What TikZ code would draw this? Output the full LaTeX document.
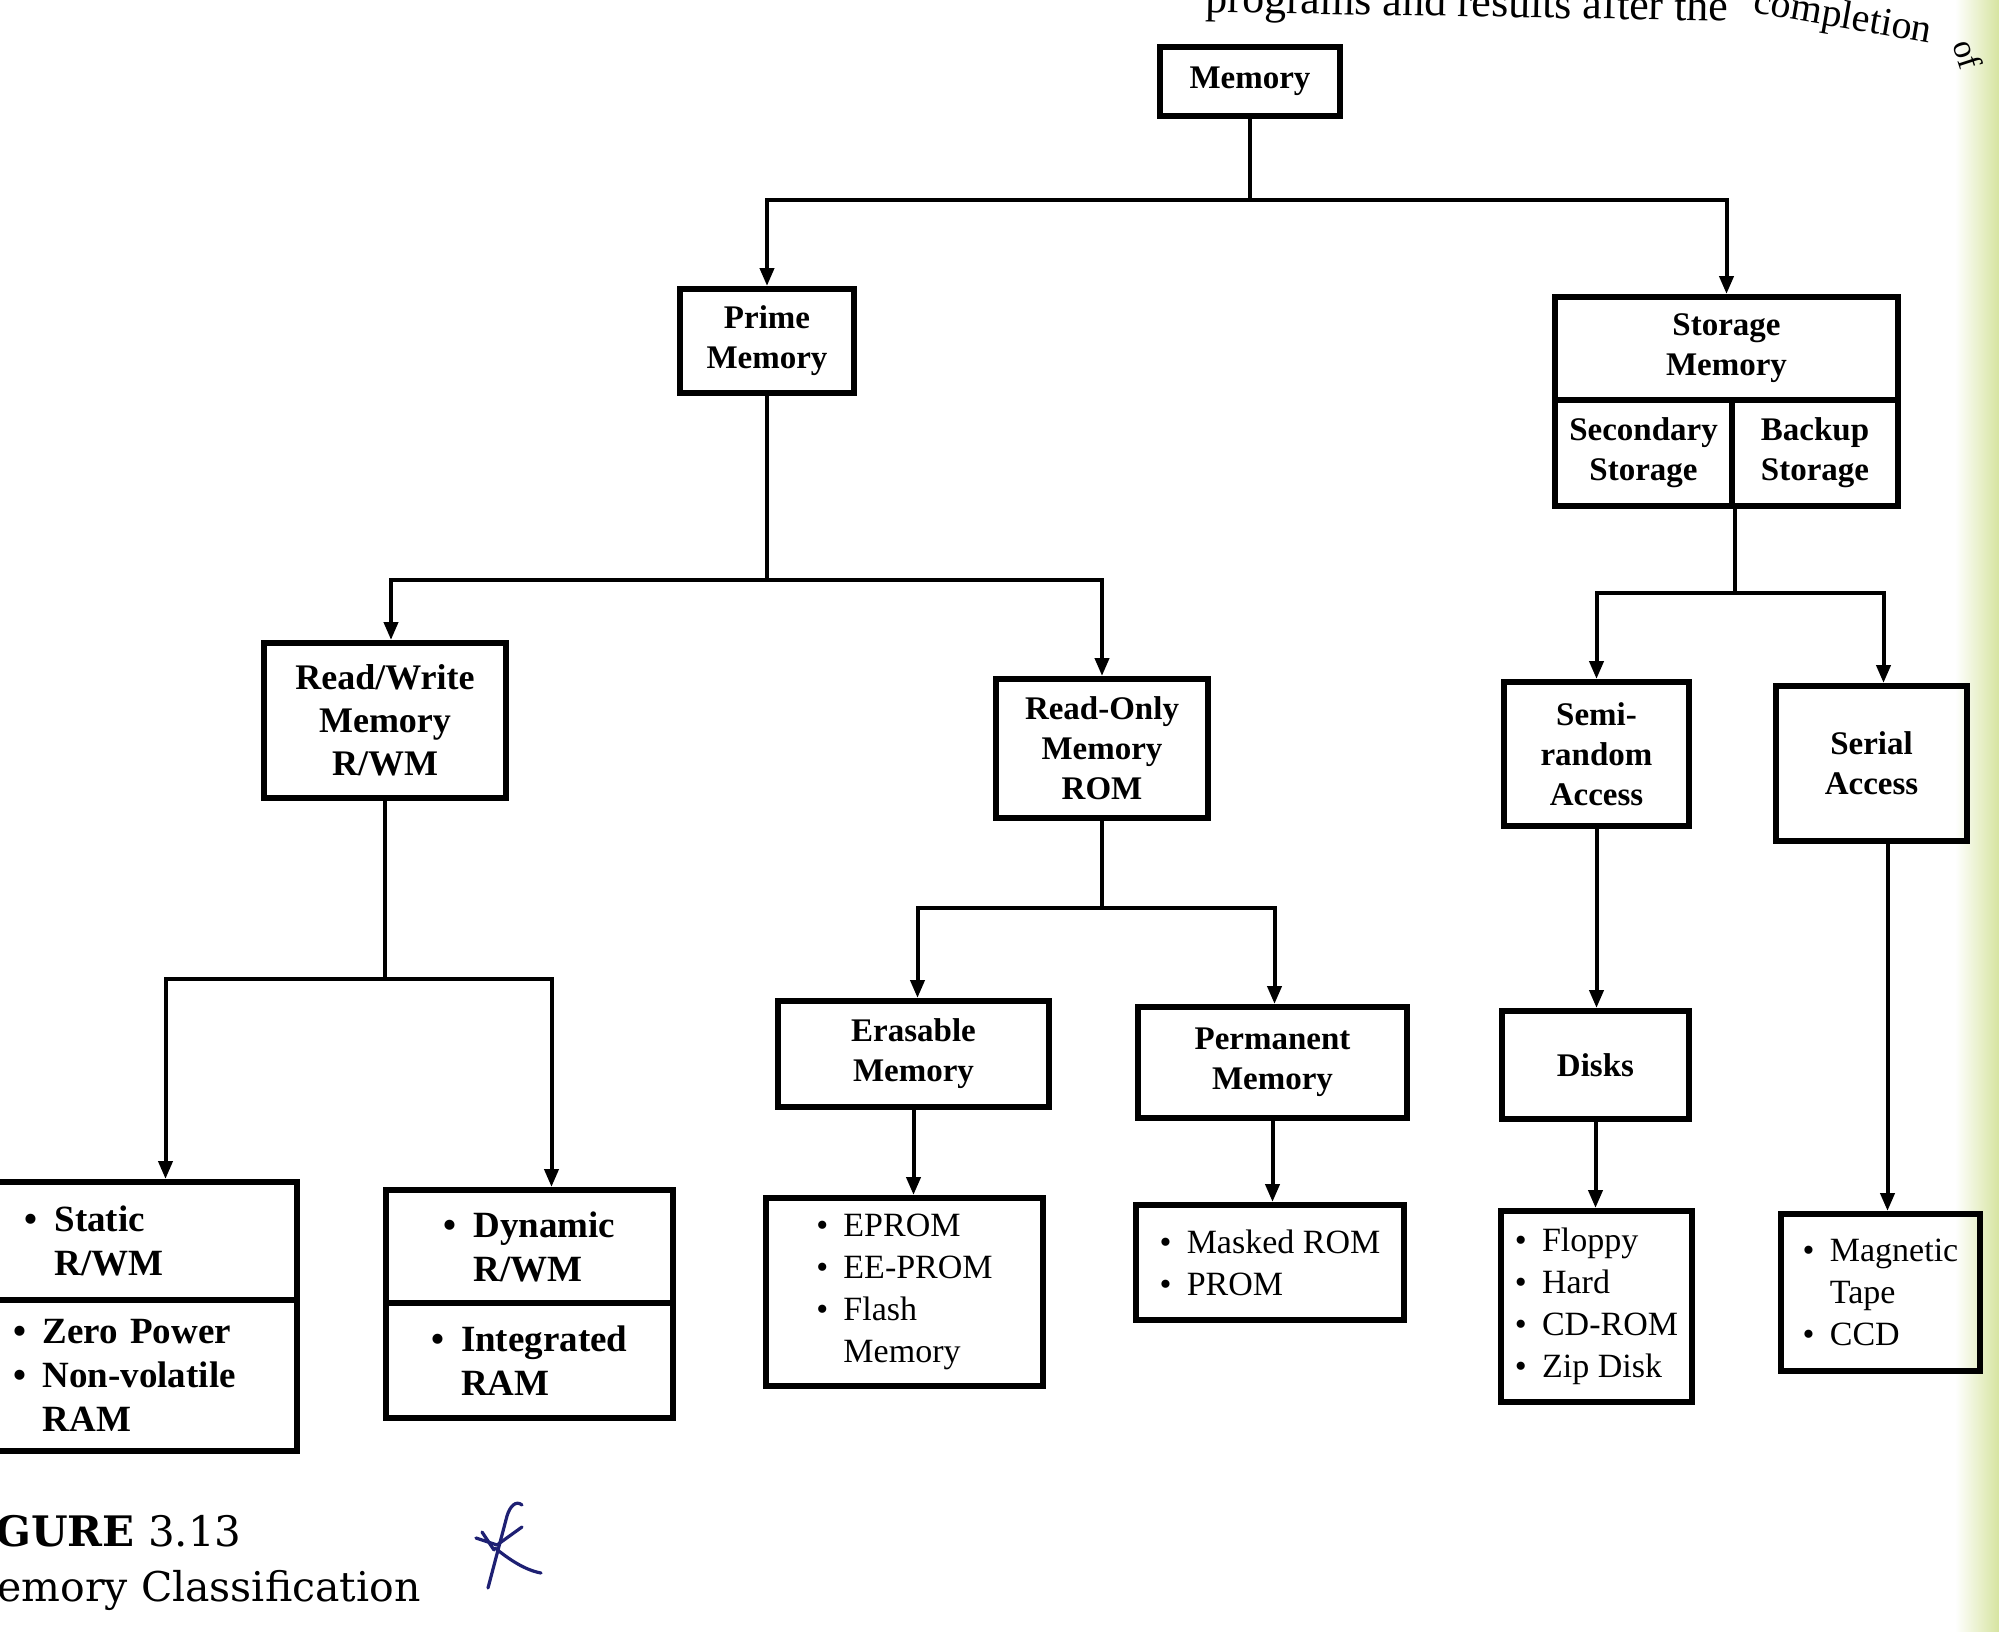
\documentclass[tikz,border=0pt]{standalone}
\usepackage{fontspec}
\setmainfont{Liberation Serif}
\newfontfamily\capfont{DejaVu Serif}
\usetikzlibrary{arrows.meta}
\newcommand{\mbul}{\textbullet\hspace{0.45em}}
\newcommand{\mind}{\hspace*{0.8em}}
\definecolor{inkblue}{RGB}{30,32,115}
\definecolor{pagetint}{RGB}{214,228,160}
\begin{document}
\begin{tikzpicture}[x=0.5pt,y=-0.5pt,
  box/.style={draw,line width=3pt,rectangle,inner sep=2pt,align=center,
    font=\fontsize{16.5}{20}\selectfont\bfseries},
  lst/.style={draw,line width=3pt,rectangle,inner xsep=4pt,inner ysep=0pt,align=left,
    font=\fontsize{17}{21}\selectfont},
  bigl/.style={font=\fontsize{18.5}{22}\selectfont\bfseries},
  conn/.style={line width=2pt},
  arr/.style={line width=2pt,-{Triangle[length=9pt,width=7pt]}},
  pen/.style={draw=inkblue,line width=1.6pt,line cap=round,line join=round},
  pagetxt/.style={font=\fontsize{22}{24}\selectfont,inner sep=0pt}
]
\useasboundingbox (0,0) rectangle (1999,1632);
\fill[white] (0,0) rectangle (1999,1632);
\shade[left color=white,right color=pagetint] (1955,0) rectangle (1999,1632);

% page text at the top (cut by the page edge)
\node[pagetxt,anchor=base west,rotate=-1] (top1) at (1205,12) {programs and results after the};
\node[pagetxt,anchor=base west,rotate=-10,font=\fontsize{20}{22}\selectfont] (top2) at (1752,12) {completion};
\node[pagetxt,anchor=base west,rotate=-72,font=\fontsize{17}{19}\selectfont] (top3) at (1952,44) {of};

% level 0
\node[box,minimum width=90pt,minimum height=34.5pt] (mem) at (1250,81.5) {Memory};

% level 1
\node[box,minimum width=87pt,minimum height=52pt] (prime) at (767,341) {Prime\\Memory};
\node[box,minimum width=171.5pt,minimum height=51.5pt] (stor) at (1726.5,348.5) {Storage\\Memory};
\node[box,minimum width=88.5pt,minimum height=53pt] (sec) at (1643.5,453) {Secondary\\Storage};
\node[box,minimum width=83pt,minimum height=53pt] (bak) at (1815,453) {Backup\\Storage};

% level 2
\node[box,minimum width=121pt,minimum height=77.5pt,font=\fontsize{18}{21.5}\selectfont\bfseries] (rw) at (385,720.5) {Read/Write\\Memory\\R/WM};
\node[box,minimum width=106pt,minimum height=69.5pt] (rom) at (1102,748.5) {Read-Only\\Memory\\ROM};
\node[box,minimum width=92.5pt,minimum height=72pt] (semi) at (1596.5,754) {Semi-\\random\\Access};
\node[box,minimum width=95.5pt,minimum height=77.5pt] (serial) at (1871.5,763.5) {Serial\\Access};

% level 3
\node[box,minimum width=135.5pt,minimum height=53pt] (eras) at (913.5,1054) {Erasable\\Memory};
\node[box,minimum width=134.5pt,minimum height=55.5pt] (perm) at (1272.5,1062.5) {Permanent\\Memory};
\node[box,minimum width=93.5pt,minimum height=54pt] (disks) at (1595.5,1065) {Disks};

% leaf lists
\node[lst,bigl,text width=120.5pt,inner xsep=15.5pt,minimum height=59pt] (st1) at (145.5,1241) {\mbul Static\\\mind R/WM};
\node[lst,bigl,text width=132.5pt,inner xsep=9.5pt,minimum height=75.5pt] (st2) at (145.5,1375.5) {\mbul Zero Power\\\mbul Non-volatile\\\mind RAM};
\node[lst,bigl,minimum width=143.5pt,minimum height=56.5pt] (dy1) at (529.5,1246.5) {\mbul Dynamic\\\mind R/WM};
\node[lst,bigl,minimum width=143.5pt,minimum height=57.5pt] (dy2) at (529.5,1360.5) {\mbul Integrated\\\mind RAM};
\node[lst,minimum width=138.5pt,minimum height=94pt] (eprom) at (904.5,1292) {\mbul EPROM\\\mbul EE-PROM\\\mbul Flash\\\mind Memory};
\node[lst,minimum width=134pt,minimum height=57.5pt] (masked) at (1270,1262.5) {\mbul Masked ROM\\\mbul PROM};
\node[lst,minimum width=95.5pt,minimum height=95.5pt] (floppy) at (1596.5,1306.5) {\mbul Floppy\\\mbul Hard\\\mbul CD-ROM\\\mbul Zip Disk};
\node[lst,minimum width=99.5pt,minimum height=78.5pt] (tape) at (1880.5,1292.5) {\mbul Magnetic\\\mind Tape\\\mbul CCD};

% connectors
\coordinate (j0) at (1250,200);
\draw[conn] (mem.south) -- (j0);
\draw[arr] (j0) -| (prime.north);
\draw[arr] (j0) -| (stor.north);

\coordinate (j1) at (767,580);
\draw[conn] (prime.south) -- (j1);
\draw[arr] (j1) -| ([xshift=3pt]rw.north);
\draw[arr] (j1) -| (rom.north);

\coordinate (j2) at (385,979);
\draw[conn] (rw.south) -- (j2);
\draw[arr] (j2) -| ([xshift=10pt]st1.north);
\draw[arr] (j2) -| ([xshift=11pt]dy1.north);

\coordinate (j3) at (1102,908);
\draw[conn] (rom.south) -- (j3);
\draw[arr] (j3) -| ([xshift=2pt]eras.north);
\draw[arr] (j3) -| ([xshift=1pt]perm.north);
\draw[arr] (eras.south) -- (eras.south |- eprom.north);
\draw[arr] (perm.south) -- (perm.south |- masked.north);

\coordinate (j4) at (sec.south east |- 0,593);
\draw[conn] (sec.south east) -- (j4);
\draw[arr] (j4) -| (semi.north);
\draw[arr] (j4) -| ([xshift=6pt]serial.north);
\draw[arr] (semi.south) -- (semi.south |- disks.north);
\draw[arr] (disks.south) -- (disks.south |- floppy.north);
\draw[arr] ([xshift=8pt]serial.south) -- ([xshift=8pt]serial.south |- tape.north);

% caption (cut by the left page edge)
\node[anchor=base east,inner sep=0pt,font=\capfont\fontsize{21}{24}\selectfont] (figno) at (242,1546) {\textbf{FIGURE} 3.13};
\node[anchor=base east,inner sep=0pt,font=\capfont\fontsize{20.5}{24}\selectfont] (figtitle) at (421,1601) {Memory Classification};

% handwritten star
\draw[pen] (522,1505) .. controls (516,1500) and (510,1506) .. (507,1516) -- (488,1588);
\draw[pen] (476,1538) -- (497,1545) -- (522,1527);
\draw[pen] (495,1548) .. controls (510,1560) and (525,1570) .. (541,1573);
\draw[pen] (482,1532) -- (494,1550);
\end{tikzpicture}
\end{document}
